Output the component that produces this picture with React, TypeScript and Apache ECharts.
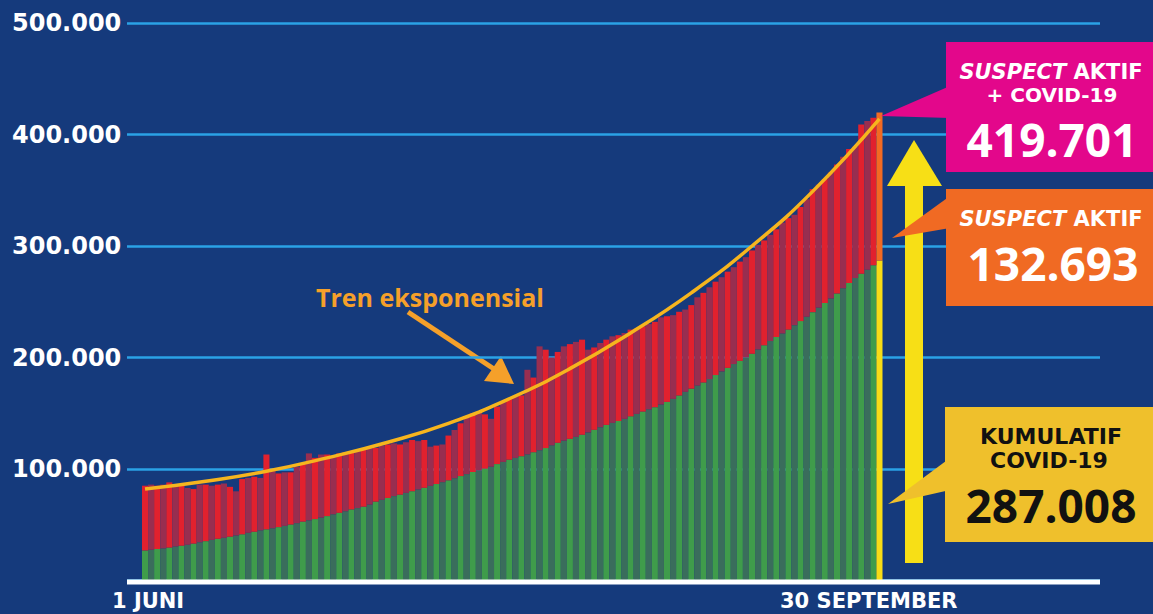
import React, { useEffect, useRef } from "react";
import * as echarts from "echarts";

const monthNames = ["JUNI", "JULI", "AGUSTUS", "SEPTEMBER"];
const monthDays = [30, 31, 31, 30];
const categories: string[] = [];
monthDays.forEach((n, m) => {
  for (let d = 1; d <= n; d++) categories.push(`${d} ${monthNames[m]}`);
});

// Kumulatif COVID-19 (green)
const cumulativeCovid = [
  26940, 27549, 28233, 28818, 29521, 30514, 31186, 32033, 33076, 34316, 35295, 36406, 37420, 38277, 39294,
  40400, 41431, 42762, 43803, 45029, 45891, 46845, 47896, 49009, 50187, 51427, 52812, 54010, 55092, 56385,
  57770, 59394, 60695, 62142, 63749, 64958, 66226, 68079, 70736, 72347, 74018, 75699, 76981, 78572, 80094,
  81668, 83130, 84882, 86521, 88214, 89869, 91751, 93657, 95418, 97286, 98778, 100303, 102051, 104432, 106336,
  108376,
  109936, 111455, 113134, 115056, 116871, 118753, 121226, 123503, 125396, 127083, 128776, 130718, 132816,
  135123, 137468, 139549, 141370, 143043, 144945, 147211, 149408, 151498, 153535, 155412, 157859, 160165,
  162884, 165887, 169195, 172053, 174796,
  177571, 180646, 184268, 187537, 190665, 194109, 196989, 200035, 203342, 207203, 210940, 214746, 218382,
  221523, 225030, 228993, 232628, 236519, 240687, 244676, 248852, 252923, 257388, 262022, 266845, 271339,
  275213, 278722, 282724, 287008,
];

// Suspect aktif + COVID-19 (top of each bar)
const suspectPlusCovid = [
  85000, 86000, 85000, 86000, 88000, 86000, 85000, 83000, 82000, 86000,
  86000, 85000, 86000, 87000, 84000, 80000, 91000, 92000, 93000, 92000,
  113000, 99000, 96000, 97000, 97000, 102000, 105000, 114000, 110000, 113000,
  113000, 112000, 114000, 115000, 115000, 116000, 117000, 120000, 119000, 121000,
  122000, 123000, 122000, 124000, 126000, 125000, 126000, 120000, 121000, 122000,
  130000, 135000, 141000, 147000, 150000, 151000, 149000, 145000, 156000, 160000,
  163000, 165000, 166000, 189000, 182000, 210000, 207000, 200000, 205000, 210000,
  212000, 214000, 216000, 207000, 209000, 213000, 216000, 219000, 220000, 222000,
  225000, 226000, 228000, 230000, 232000, 236000, 237000, 238000, 241000, 243000,
  247000, 254000, 258000, 263000, 268000, 272000, 277000, 281000, 286000, 290000,
  296000, 301000, 305000, 310000, 315000, 321000, 325000, 328000, 335000, 342000,
  351000, 355000, 360000, 366000, 373000, 380000, 387000, 389000, 409000, 412000,
  415000, 419701,
];

// Tren eksponensial (read at sample days)
const trendDays = [0, 10, 20, 30, 40, 50, 60, 70, 80, 90, 100, 110, 121];
const trendValues = [82000, 89000, 98000, 110000, 124000, 141000, 163000, 190000, 222000, 258000, 300000, 349000, 414000];

const yMax = 500000;
const yInterval = 100000;

const BG = "#153a7c";
const FONT_WIDE = "DejaVu Sans";
const FONT_NUM = "Open Sans";

const fmt = (v: number) => (v === 0 ? "" : `${Math.round(v / 1000)}.000`);

export default function App() {
  const ref = useRef<HTMLDivElement>(null);
  useEffect(() => {
    if (!ref.current) return;
    const chart = echarts.init(ref.current, undefined, { renderer: "svg" });
    const last = categories.length - 1;
    const greenData = cumulativeCovid.map((v, i) => ({
      value: v,
      itemStyle: { color: i === last ? "#f7dc16" : i % 2 === 0 ? "#3f9c4b" : "#3a6d5c" },
    }));
    const redData = suspectPlusCovid.map((t, i) => ({
      value: t - cumulativeCovid[i],
      itemStyle: { color: i === last ? "#f26a22" : i % 2 === 0 ? "#e1212e" : "#982e50" },
    }));
    const top = 23;
    const bottom = 33.5;
    const smallText = (text: string, x: number, y: number, fill: string, size = 21) => ({
      type: "text",
      z: 31,
      style: { text, x, y, align: "center", verticalAlign: "middle", fill, fontFamily: FONT_WIDE, fontWeight: "bold", fontSize: size, lineHeight: size },
    });
    const bigText = (text: string, x: number, y: number, fill: string) => ({
      type: "text",
      z: 31,
      style: { text, x, y, align: "center", verticalAlign: "middle", fill, fontFamily: FONT_NUM, fontWeight: "bold", fontSize: 46, lineHeight: 34 },
    });
    const suspectText = (y: number) => ({
      type: "text",
      z: 31,
      style: {
        text: "{i|SUSPECT}{b| AKTIF}",
        x: 1051, y, align: "center", verticalAlign: "middle",
        rich: {
          i: { fill: "#fff", fontFamily: FONT_WIDE, fontWeight: "bold", fontStyle: "italic", fontSize: 21, lineHeight: 21 },
          b: { fill: "#fff", fontFamily: FONT_WIDE, fontWeight: "bold", fontSize: 21, lineHeight: 21 },
        },
      },
    });
    const option: any = {
      animation: false,
      backgroundColor: BG,
      grid: [
        { left: 127, right: 53, top, bottom },
        { left: 142, right: 1153 - 882.5, top, bottom },
      ],
      xAxis: [
        { gridIndex: 0, type: "value", min: 0, max: 1, show: false },
        {
          gridIndex: 1,
          type: "category",
          data: categories,
          boundaryGap: true,
          axisLine: { show: false },
          axisTick: { show: false },
          axisLabel: { show: false },
        },
      ],
      yAxis: [
        {
          gridIndex: 0,
          type: "value",
          min: 0,
          max: yMax,
          interval: yInterval,
          axisLine: { show: false },
          axisTick: { show: false },
          splitLine: { lineStyle: { color: "#2aa2e6", width: 2.5 } },
          axisLabel: {
            formatter: fmt,
            align: "left",
            margin: 115,
            color: "#ffffff",
            fontFamily: FONT_WIDE,
            fontWeight: "bold",
            fontSize: 24,
          },
        },
        { gridIndex: 1, type: "value", min: 0, max: yMax, show: false },
      ],
      series: [
        {
          type: "bar",
          name: "Kumulatif COVID-19",
          xAxisIndex: 1,
          yAxisIndex: 1,
          stack: "total",
          barCategoryGap: "0%",
          data: greenData,
        },
        {
          type: "bar",
          name: "Suspect aktif",
          xAxisIndex: 1,
          yAxisIndex: 1,
          stack: "total",
          barCategoryGap: "0%",
          data: redData,
        },
        {
          type: "line",
          name: "Tren eksponensial",
          xAxisIndex: 1,
          yAxisIndex: 1,
          smooth: 0.5,
          symbol: "none",
          z: 5,
          lineStyle: { color: "#f6b51e", width: 3.5 },
          data: trendDays.map((d, i) => [d, trendValues[i]]),
        },
      ],
      graphic: [
        { type: "rect", shape: { x: 127, y: 579.5, width: 973, height: 5 }, style: { fill: "#ffffff" }, z: 10 },
        {
          type: "text",
          style: { text: "1 JUNI", x: 112, y: 601, verticalAlign: "middle", fill: "#fff", fontFamily: FONT_WIDE, fontWeight: "bold", fontSize: 21, lineHeight: 21 },
        },
        {
          type: "text",
          style: { text: "30 SEPTEMBER", x: 780, y: 601, verticalAlign: "middle", fill: "#fff", fontFamily: FONT_WIDE, fontWeight: "bold", fontSize: 21, lineHeight: 21 },
        },
        // Tren eksponensial annotation
        {
          type: "text",
          style: { text: "Tren eksponensial", x: 316, y: 297, verticalAlign: "middle", fill: "#f5a02a", fontFamily: FONT_NUM, fontWeight: "bold", fontSize: 25 },
        },
        { type: "line", shape: { x1: 408, y1: 312, x2: 494, y2: 369 }, style: { stroke: "#f5a02a", lineWidth: 5 } },
        { type: "polygon", shape: { points: [[514, 384], [484, 381], [501, 356]] }, style: { fill: "#f5a02a" } },
        // Yellow arrow
        { type: "rect", shape: { x: 905, y: 180, width: 18, height: 383 }, style: { fill: "#f7df16" }, z: 20 },
        { type: "polygon", shape: { points: [[914, 140], [887, 186], [942, 186]] }, style: { fill: "#f7df16" }, z: 20 },
        // Magenta box
        { type: "polygon", shape: { points: [[881, 116], [950, 86], [950, 118]] }, style: { fill: "#e3078b" }, z: 30 },
        { type: "rect", shape: { x: 946, y: 42, width: 207, height: 130 }, style: { fill: "#e3078b" }, z: 30 },
        suspectText(72),
        smallText("+ COVID-19", 1052, 95, "#fff", 20),
        bigText("419.701", 1052, 139, "#fff"),
        // Orange box
        { type: "polygon", shape: { points: [[892, 238], [950, 196], [950, 228]] }, style: { fill: "#f06a23" }, z: 30 },
        { type: "rect", shape: { x: 946, y: 189, width: 207, height: 117 }, style: { fill: "#f06a23" }, z: 30 },
        suspectText(219),
        bigText("132.693", 1053, 263, "#fff"),
        // Yellow box
        { type: "polygon", shape: { points: [[888, 504], [950, 458], [950, 490]] }, style: { fill: "#efc02c" }, z: 30 },
        { type: "rect", shape: { x: 945, y: 407, width: 208, height: 135 }, style: { fill: "#efc02c" }, z: 30 },
        smallText("KUMULATIF", 1051, 436, "#111", 22),
        smallText("COVID-19", 1049, 460, "#111", 22),
        bigText("287.008", 1051, 505, "#111"),
      ],
    };
    chart.setOption(option);
    return () => chart.dispose();
  }, []);
  return (
    <div
      ref={ref}
      style={{ position: "fixed", left: 0, top: 0, width: 1153, height: 614, background: BG }}
    />
  );
}
